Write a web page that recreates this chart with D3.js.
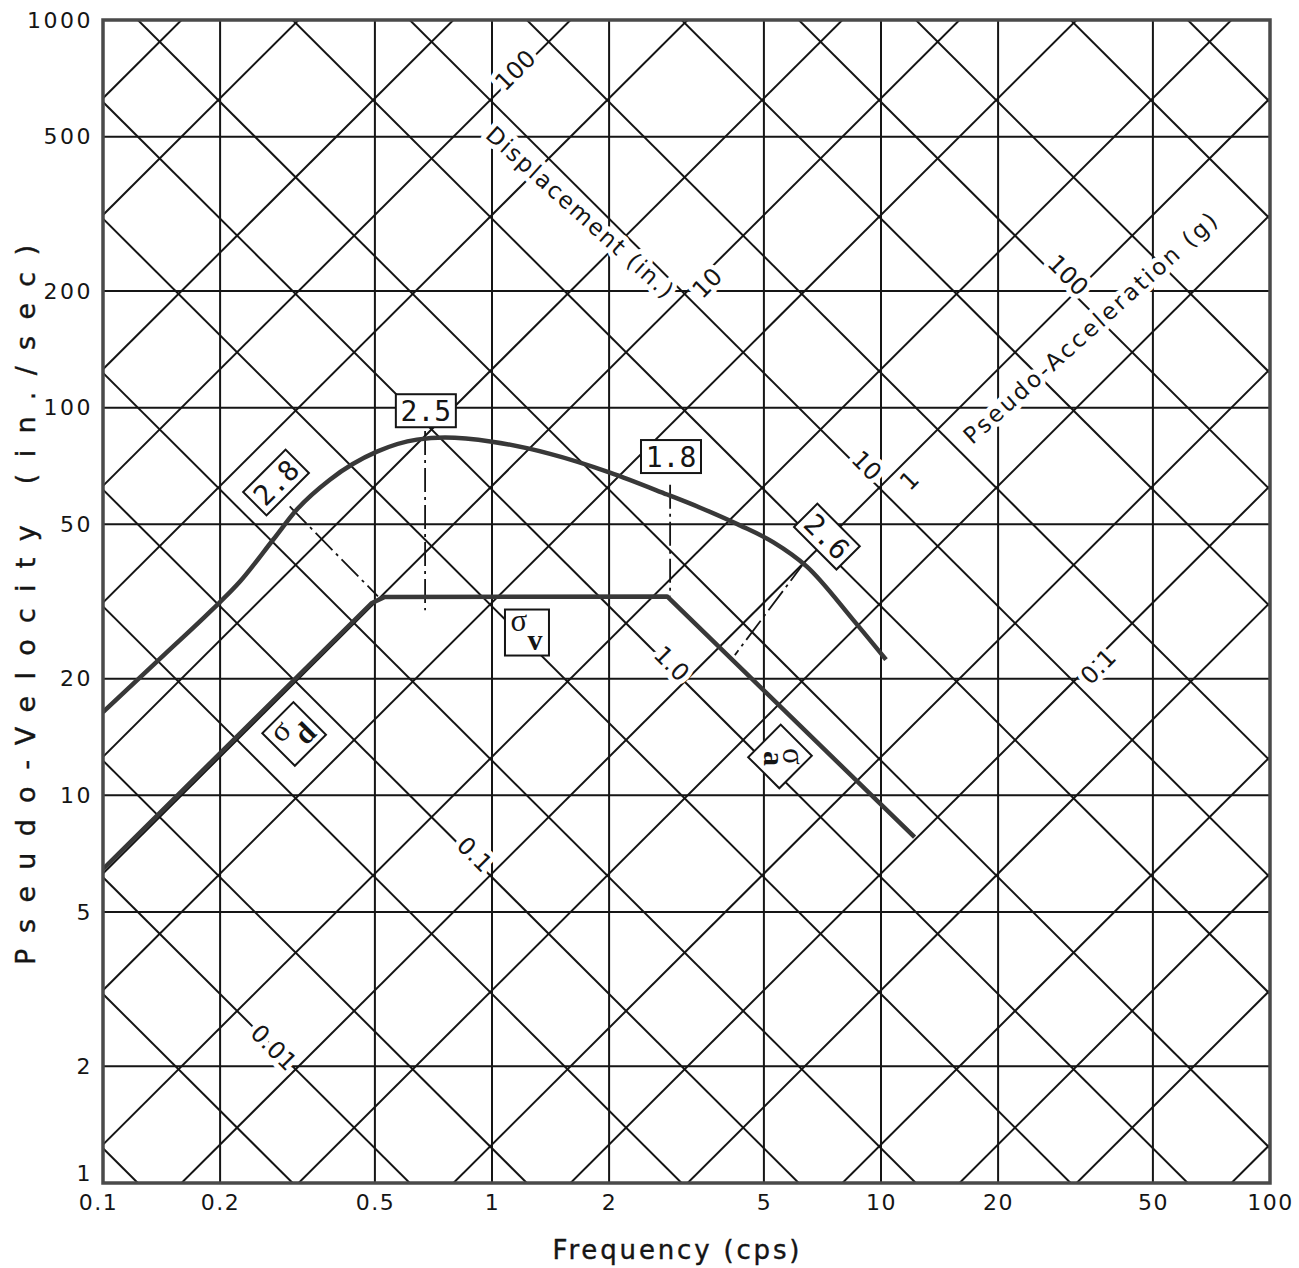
<!DOCTYPE html>
<html>
<head>
<meta charset="utf-8">
<script src="https://cdn.jsdelivr.net/npm/d3@7/dist/d3.min.js"></script>
<style>
  body { margin: 0; background: #fff; }
  svg { display: block; }
</style>
</head>
<body>
<div id="chart"></div>
<script>

// ---------------- DATA ----------------
var freqTicks = [0.1, 0.2, 0.5, 1, 2, 5, 10, 20, 50, 100];
var velTicks = [1, 2, 5, 10, 20, 50, 100, 200, 500, 1000];

// tripartite diagonals (inches, g)
var dispValues = [0.001, 0.002, 0.005, 0.01, 0.02, 0.05, 0.1, 0.2, 0.5, 1, 2, 5, 10, 20, 50, 100, 200, 500, 1000, 2000];
var accValues = [0.001, 0.002, 0.005, 0.01, 0.02, 0.05, 0.1, 0.2, 0.5, 1, 2, 5, 10, 20, 50, 100, 200, 500, 1000, 2000];

// response spectrum (freq cps, pseudo-velocity in/sec)
var spectrum = [
  [0.1, 16.4], [0.144, 23.1], [0.19, 30.0], [0.225, 35.6], [0.274, 45.7], [0.315, 54.6],
  [0.383, 65.2], [0.506, 77.0], [0.641, 82.7], [0.757, 83.7], [1.0, 81.7],
  [1.41, 76.0], [2.01, 68.0], [2.82, 59.7], [3.43, 55.2], [4.34, 49.7], [5.28, 45.0],
  [6.45, 38.9], [8.47, 28.4], [10.3, 22.4]
];

// ground motion bounds
var ground = [[0.1, 6.45], [0.49, 31.3], [0.53, 32.5], [2.82, 32.6], [12.2, 7.8]];

// dash-dot amplification guides
var guides = [
  [[0.302, 55.6], [0.509, 32.6]],
  [[0.673, 87], [0.673, 30]],
  [[2.87, 63.3], [2.87, 32.6]],
  [[6.38, 40.1], [4.21, 23]]
];

// amplification factor boxes: [freq, vel, text, angle]
var ampBoxes = [
  [0.2785, 64.1, "2.8", -45],
  [0.676, 98.2, "2.5", 0],
  [2.885, 74.8, "1.8", 0],
  [7.26, 46.5, "2.6", 45]
];

// sigma boxes: [freq, vel, subscript, angle]
var sigmaBoxes = [
  [1.23, 26.3, "v", 0],
  [0.31, 14.4, "d", -45],
  [5.5, 12.6, "a", 45]
];

// diagonal scale labels: [freq, vel, text, angle]
var dispLabels = [
  [1.146, 743, "100", -45],
  [3.57, 210, "10", -45],
  [11.8, 65, "1", -45],
  [36.1, 21.5, "0.1", -45]
];
var accLabels = [
  [30.3, 220, "100", 45],
  [9.2, 71, "10", 45],
  [2.90, 21.9, "1.0", 45],
  [0.904, 7.05, "0.1", 45],
  [0.275, 2.24, "0.01", 45]
];

// ---------------- LAYOUT ----------------
var attrs = {
  svgWidth: 1299,
  svgHeight: 1268,
  left: 103,
  right: 1270,
  top: 20,
  bottom: 1183,
  ink: '#151515',
  curveColor: '#383838',
  font: 'DejaVu Sans'
};

var x = d3.scaleLog().domain([0.1, 100]).range([attrs.left, attrs.right]);
var y = d3.scaleLog().domain([1, 1000]).range([attrs.bottom, attrs.top]);

var svg = d3.select('#chart').append('svg')
  .attr('width', attrs.svgWidth)
  .attr('height', attrs.svgHeight)
  .attr('font-family', attrs.font);

svg.append('defs').append('clipPath').attr('id', 'plot-clip')
  .append('rect')
  .attr('x', attrs.left).attr('y', attrs.top)
  .attr('width', attrs.right - attrs.left)
  .attr('height', attrs.bottom - attrs.top);

var grid = svg.append('g').attr('clip-path', 'url(#plot-clip)');

// vertical + horizontal grid
grid.selectAll('.vgrid').data(freqTicks).enter().append('line')
  .attr('x1', d => x(d)).attr('x2', d => x(d))
  .attr('y1', attrs.top).attr('y2', attrs.bottom)
  .attr('stroke', attrs.ink).attr('stroke-width', 2);

grid.selectAll('.hgrid').data(velTicks).enter().append('line')
  .attr('y1', d => y(d)).attr('y2', d => y(d))
  .attr('x1', attrs.left).attr('x2', attrs.right)
  .attr('stroke', attrs.ink).attr('stroke-width', 2);

// displacement lines: V = 2*pi*f*D
var fLo = 0.1, fHi = 100;
grid.selectAll('.dline').data(dispValues).enter().append('line')
  .attr('x1', x(fLo)).attr('y1', d => y(2 * Math.PI * fLo * d))
  .attr('x2', x(fHi)).attr('y2', d => y(2 * Math.PI * fHi * d))
  .attr('stroke', attrs.ink).attr('stroke-width', 2);

// acceleration lines: V = 386.1*A/(2*pi*f)
grid.selectAll('.aline').data(accValues).enter().append('line')
  .attr('x1', x(fLo)).attr('y1', d => y(386.1 * d / (2 * Math.PI * fLo)))
  .attr('x2', x(fHi)).attr('y2', d => y(386.1 * d / (2 * Math.PI * fHi)))
  .attr('stroke', attrs.ink).attr('stroke-width', 2);

// diagonal labels with white halo to break lines
function halo(sel) {
  sel.attr('stroke', '#fff').attr('stroke-width', 10)
    .attr('stroke-linejoin', 'round').attr('paint-order', 'stroke')
    .attr('fill', attrs.ink);
}

var labelG = svg.append('g');
labelG.selectAll('.dlab').data(dispLabels.concat(accLabels)).enter().append('text')
  .attr('transform', d => 'translate(' + x(d[0]) + ',' + y(d[1]) + ') rotate(' + d[3] + ')')
  .attr('text-anchor', 'middle').attr('dy', '0.36em')
  .attr('font-size', 24)
  .text(d => d[2])
  .call(halo);

labelG.append('text')
  .attr('transform', 'translate(580,212) rotate(42)')
  .attr('text-anchor', 'middle').attr('dy', '0.36em')
  .attr('font-size', 23).attr('textLength', 243).attr('lengthAdjust', 'spacing')
  .text('Displacement (in.)')
  .call(halo);

labelG.append('text')
  .attr('transform', 'translate(1090,328) rotate(-42)')
  .attr('text-anchor', 'middle').attr('dy', '0.36em')
  .attr('font-size', 23).attr('textLength', 332).attr('lengthAdjust', 'spacing')
  .text('Pseudo-Acceleration (g)')
  .call(halo);

// guides
var line = d3.line().x(d => x(d[0])).y(d => y(d[1]));
svg.append('g').selectAll('path').data(guides).enter().append('path')
  .attr('d', line)
  .attr('fill', 'none').attr('stroke', attrs.ink).attr('stroke-width', 1.8)
  .attr('stroke-dasharray', '24,5,3,5');

// curves
var curves = svg.append('g').attr('clip-path', 'url(#plot-clip)');
curves.append('path').datum(spectrum)
  .attr('d', d3.line().x(d => x(d[0])).y(d => y(d[1])).curve(d3.curveMonotoneX))
  .attr('fill', 'none').attr('stroke', attrs.curveColor).attr('stroke-width', 4.5);
curves.append('path').datum(ground)
  .attr('d', line)
  .attr('fill', 'none').attr('stroke', attrs.curveColor).attr('stroke-width', 4.5)
  .attr('stroke-linejoin', 'round');

// amplification boxes
var amp = svg.append('g').selectAll('g').data(ampBoxes).enter().append('g')
  .attr('transform', d => 'translate(' + x(d[0]) + ',' + y(d[1]) + ') rotate(' + d[3] + ')');
amp.append('rect')
  .attr('x', -30).attr('y', -16.5).attr('width', 60).attr('height', 33)
  .attr('fill', '#fff').attr('stroke', attrs.ink).attr('stroke-width', 2);
amp.append('text')
  .attr('text-anchor', 'middle').attr('dy', '0.36em')
  .attr('font-family', 'DejaVu Sans Mono').attr('font-size', 28)
  .attr('fill', attrs.ink)
  .text(d => d[2]);

// sigma boxes
var sig = svg.append('g').selectAll('g').data(sigmaBoxes).enter().append('g')
  .attr('transform', d => 'translate(' + x(d[0]) + ',' + y(d[1]) + ') rotate(' + d[3] + ')');
sig.append('rect')
  .attr('x', -22).attr('y', -23).attr('width', 44).attr('height', 46)
  .attr('fill', '#fff').attr('stroke', attrs.ink).attr('stroke-width', 2);
var sigText = sig.append('g')
  .attr('transform', d => d[2] === 'a' ? 'rotate(45)' : null);
sigText.append('text')
  .attr('x', d => d[2] === 'a' ? 0 : -8).attr('y', d => d[2] === 'a' ? -3 : -2)
  .attr('text-anchor', 'middle')
  .attr('font-family', 'Liberation Serif').attr('font-size', 31)
  .attr('fill', attrs.ink).text('\u03c3');
sigText.append('text')
  .attr('x', d => d[2] === 'a' ? 2 : 8).attr('y', d => d[2] === 'a' ? 16 : 17)
  .attr('text-anchor', 'middle')
  .attr('font-family', 'Liberation Serif').attr('font-weight', 'bold').attr('font-size', 30)
  .attr('fill', attrs.ink).text(d => d[2]);

// frame
svg.append('rect')
  .attr('x', attrs.left).attr('y', attrs.top)
  .attr('width', attrs.right - attrs.left).attr('height', attrs.bottom - attrs.top)
  .attr('fill', 'none').attr('stroke', '#4a4a4a').attr('stroke-width', 3.5);

// axes (labels only)
var xAxis = d3.axisBottom(x).tickValues(freqTicks).tickSize(0).tickPadding(11)
  .tickFormat(d => String(d));
svg.append('g').attr('transform', 'translate(0,' + attrs.bottom + ')')
  .call(xAxis)
  .call(g => g.select('.domain').remove())
  .selectAll('text').attr('font-size', 22).attr('font-family', attrs.font)
  .attr('letter-spacing', 1.5).attr('fill', attrs.ink)
  .attr('dx', d => d === 0.1 ? -5 : 0);

var yAxis = d3.axisLeft(y).tickValues(velTicks).tickSize(0).tickPadding(10)
  .tickFormat(d => String(d));
svg.append('g').attr('transform', 'translate(' + attrs.left + ',0)')
  .call(yAxis)
  .call(g => g.select('.domain').remove())
  .selectAll('text').attr('font-size', 22).attr('font-family', attrs.font)
  .attr('letter-spacing', 2.5).attr('fill', attrs.ink)
  .attr('dy', d => d === 1 ? '-0.1em' : '0.32em');

// titles
svg.append('text')
  .attr('x', 676).attr('y', 1259).attr('text-anchor', 'middle')
  .attr('font-size', 26).attr('textLength', 247).attr('lengthAdjust', 'spacing')
  .attr('fill', attrs.ink).attr('stroke', attrs.ink).attr('stroke-width', 0.4)
  .text('Frequency (cps)');

svg.append('text')
  .attr('transform', 'translate(35,605) rotate(-90)')
  .attr('text-anchor', 'middle')
  .attr('font-size', 27).attr('textLength', 720).attr('lengthAdjust', 'spacing')
  .attr('fill', attrs.ink).attr('stroke', attrs.ink).attr('stroke-width', 0.4)
  .text('Pseudo-Velocity (in./sec)');

</script>
</body>
</html>
